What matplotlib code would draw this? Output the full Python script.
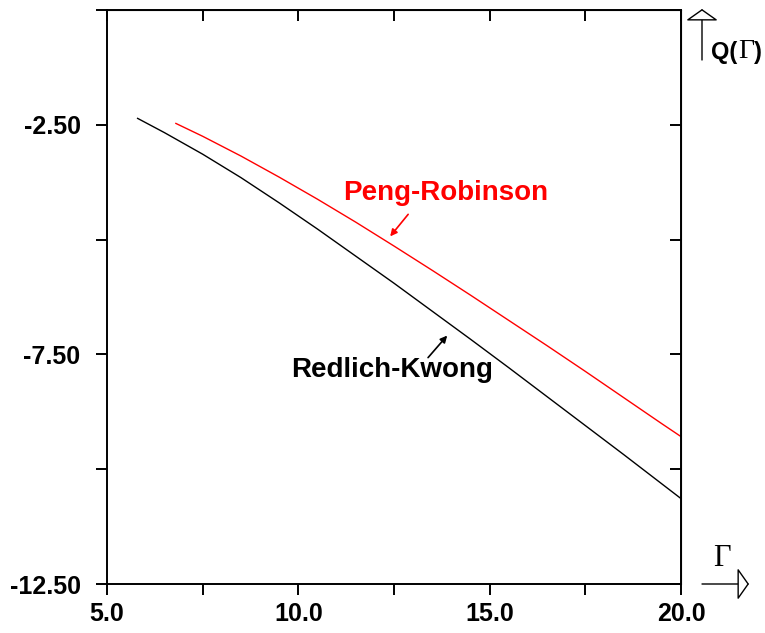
import numpy as np
import matplotlib
matplotlib.use('Agg')
import matplotlib.pyplot as plt

# curves
rk_x = [5.8, 6.5, 7.5, 8.5, 9.5, 10.5, 11.5, 12.5, 13.5, 14.5, 15.5, 16.5, 17.5, 18.5, 19.5, 20.0]
rk_y = [-2.36, -2.67, -3.14, -3.65, -4.20, -4.77, -5.36, -5.95, -6.56, -7.17, -7.79, -8.42, -9.05, -9.68, -10.32, -10.64]
pr_x = [6.8, 7.5, 8.5, 9.5, 10.5, 11.5, 12.5, 13.5, 14.5, 15.5, 16.5, 17.5, 18.5, 19.5, 20.0]
pr_y = [-2.47, -2.75, -3.18, -3.64, -4.12, -4.62, -5.14, -5.67, -6.21, -6.76, -7.31, -7.87, -8.44, -9.01, -9.29]

xmajor = [5.0, 10.0, 15.0, 20.0]
xminor = [7.5, 12.5, 17.5]
ymajor = [-12.5, -7.5, -2.5]
yminor = [-10.0, -5.0, 0.0]
xlabels = ['5.0', '10.0', '15.0', '20.0']
ylabels = ['-12.50', '-7.50', '-2.50']

plt.rcParams['font.family'] = ['Liberation Sans', 'DejaVu Sans']
plt.rcParams['font.weight'] = 'bold'

fig = plt.figure(figsize=(7.65, 6.33), dpi=100)
ax = fig.add_axes([107/765, 49/633, 574/765, 574/633])

ax.plot(rk_x, rk_y, color='black', lw=1.0)
ax.plot(pr_x, pr_y, color='red', lw=1.0)
ax.set_xlim(5, 20)
ax.set_ylim(-12.5, 0)

for s in ax.spines.values():
    s.set_linewidth(1.4)

ax.set_xticks(xmajor)
ax.set_xticklabels(xlabels)
ax.set_xticks(xminor, minor=True)
ax.set_yticks(ymajor)
ax.set_yticklabels(ylabels)
ax.set_yticks(yminor, minor=True)
ax.tick_params(axis='both', which='both', direction='out', length=8, width=1.4, labelsize=18)
ax.tick_params(axis='x', which='both', pad=5)
ax.tick_params(axis='y', which='both', pad=11)
for lab in ax.get_xticklabels() + ax.get_yticklabels():
    lab.set_fontweight('bold')

# top and right ticks point inward
top = ax.secondary_xaxis('top')
top.set_xticks(xmajor + xminor)
top.tick_params(direction='in', length=8, width=1.4, labeltop=False)
right = ax.secondary_yaxis('right')
right.set_yticks(ymajor + yminor)
right.tick_params(direction='in', length=8, width=1.4, labelright=False)

# curve labels
ax.annotate('', xy=(12.40, -4.93), xytext=(12.87, -4.45),
            arrowprops=dict(arrowstyle='-|>', color='red', lw=1.2, mutation_scale=10,
                            shrinkA=0, shrinkB=0))
ax.text(13.86, -3.99, 'Peng-Robinson', color='red', fontsize=20, fontweight='bold',
        ha='center', va='center')
ax.annotate('', xy=(13.89, -7.09), xytext=(13.39, -7.57),
            arrowprops=dict(arrowstyle='-|>', color='black', lw=1.2, mutation_scale=10,
                            shrinkA=0, shrinkB=0))
ax.text(12.45, -7.85, 'Redlich-Kwong', color='black', fontsize=20, fontweight='bold',
        ha='center', va='center')

# axis arrows outside the frame
fig.patches.append(matplotlib.patches.FancyArrowPatch(
    (702/765, 1 - 60/633), (702/765, 1 - 9/633), transform=fig.transFigure,
    arrowstyle='-|>,head_length=0.6,head_width=0.85', mutation_scale=12,
    shrinkA=0, shrinkB=0, facecolor='white', edgecolor='black', lw=1.0))
fig.patches.append(matplotlib.patches.FancyArrowPatch(
    (702/765, 1 - 584/633), (749/765, 1 - 584/633), transform=fig.transFigure,
    arrowstyle='-|>,head_length=0.6,head_width=0.85', mutation_scale=12,
    shrinkA=0, shrinkB=0, facecolor='white', edgecolor='black', lw=1.0))

fig.text(711/765, 1 - 52/633, 'Q(', fontsize=17, fontweight='bold', ha='left', va='center')
fig.text(738/765, 1 - 52/633, 'Γ', fontsize=20, family='Liberation Serif', fontweight='normal',
         ha='left', va='center')
fig.text(754/765, 1 - 52/633, ')', fontsize=17, fontweight='bold', ha='left', va='center')
fig.text(722/765, 1 - 559/633, 'Γ', fontsize=22, family='Liberation Serif', fontweight='normal',
         ha='center', va='center')

fig.savefig('out.png', dpi=100)
